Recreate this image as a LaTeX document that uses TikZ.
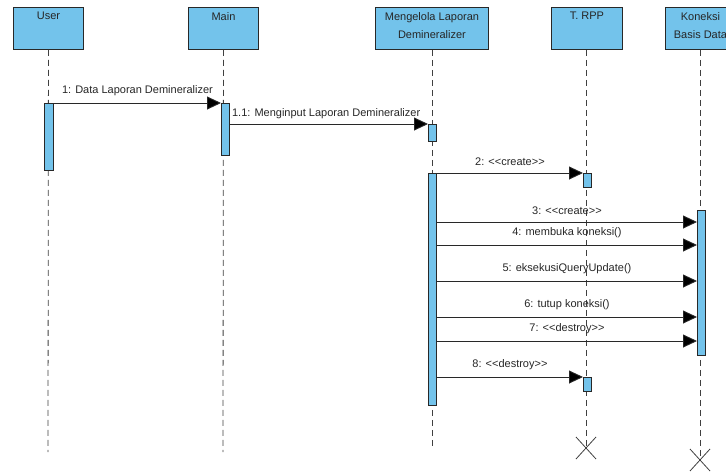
\documentclass[tikz,border=0pt]{standalone}
\usepackage{fontspec}
\setmainfont{Liberation Sans}
\usetikzlibrary{arrows.meta}
\definecolor{actfill}{RGB}{115,195,235}
\definecolor{linecol}{RGB}{40,40,40}
\begin{document}
\begin{tikzpicture}[x=1pt,y=-1pt,
  every node/.style={font=\fontsize{11}{18}\selectfont, text=black!85},
  head/.style={draw=linecol,line width=0.9pt,fill=actfill,minimum width=70pt,minimum height=42pt,anchor=north west,inner sep=0pt},
  headtxt/.style={anchor=north,align=center,inner sep=0pt},
  act/.style={draw=linecol,line width=0.9pt,fill=actfill,minimum width=8pt,anchor=north west,inner sep=0pt},
  life/.style={draw=black!75,line width=0.8pt,dash pattern=on 6pt off 4pt},
  msg/.style={draw=linecol,line width=0.9pt,-{Triangle[length=14pt,width=13pt,fill=black]}},
  lbl/.style={midway,above=5pt,inner sep=2pt},
  xmark/.style={draw=black!75,line width=0.8pt}
]
\useasboundingbox (0,0) rectangle (726,474);
\clip (0,0) rectangle (726,474);

% header boxes
\node[head] (user) at (13,7) {};
\node[head] (main) at (188,7) {};
\node[head,minimum width=113pt] (mgl) at (375,7) {};
\node[head,minimum width=71pt] (rpp) at (551,7) {};
\node[head] (kon) at (665,7) {};
\node[headtxt] (userT) at ([yshift=-5pt]user.north) {User};
\node[headtxt] (mainT) at ([yshift=-5pt]main.north) {Main};
\node[headtxt] (mglT) at ([yshift=-5pt]mgl.north) {Mengelola Laporan\\Demineralizer};
\node[headtxt] (rppT) at ([yshift=-5pt]rpp.north) {T. RPP};
\node[headtxt] (konT) at ([yshift=-5pt]kon.north) {Koneksi\\Basis Data};

% lifeline ends
\coordinate (userEnd) at (48,452);
\coordinate (mainEnd) at (223,452);
\coordinate (mglEnd) at (432,448);
\coordinate (rppX) at (586,448);
\coordinate (konX) at (700,460);

\draw[life] (user.south) -- (userEnd);
\draw[life] (main.south) -- (mainEnd);
\draw[life] (mgl.south -| mglEnd) -- (mglEnd);
\draw[life] (rpp.south -| rppX) -- (rppX);
\draw[life] (kon.south -| konX) -- (konX);

% activations
\node[act,minimum width=9pt,minimum height=67pt] (userA) at (44,103) {};
\node[act,minimum height=52pt] (mainA) at (221,103) {};
\node[act,minimum height=17pt] (mglA1) at (428,124) {};
\node[act,minimum height=232pt] (mglA2) at (428,173) {};
\node[act,minimum height=14pt] (rppA1) at (583,173) {};
\node[act,minimum height=145pt] (konA) at (697,210) {};
\node[act,minimum height=14pt] (rppA2) at (583,377) {};

% messages
\draw[msg] (userA.north east) -- (mainA.north west) node[lbl] {1: Data Laporan Demineralizer};
\draw[msg] (mainA.east |- mglA1.north) -- (mglA1.north west);
\node[anchor=south west,inner sep=2pt] (m11) at ([yshift=3pt]mainA.east |- mglA1.north) {1.1: Menginput Laporan Demineralizer};
\draw[msg] (mglA2.north east) -- (rppA1.north west) node[lbl] {2: <{}<create>{}>};
\draw[msg] (mglA2.east |- 0,222) -- (konA.west |- 0,222) node[lbl] {3: <{}<create>{}>};
\draw[msg] (mglA2.east |- 0,245) -- (konA.west |- 0,245) node[lbl] {4: membuka koneksi()};
\draw[msg] (mglA2.east |- 0,281) -- (konA.west |- 0,281) node[lbl] {5: eksekusiQueryUpdate()};
\draw[msg] (mglA2.east |- 0,317) -- (konA.west |- 0,317) node[lbl] {6: tutup koneksi()};
\draw[msg] (mglA2.east |- 0,341) -- (konA.west |- 0,341) node[lbl] {7: <{}<destroy>{}>};
\draw[msg] (mglA2.east |- rppA2.north) -- (rppA2.north west) node[lbl] {8: <{}<destroy>{}>};

% destroy marks
\draw[xmark] ([shift={(-10,-11)}]rppX) -- ([shift={(10,11)}]rppX);
\draw[xmark] ([shift={(-10,11)}]rppX) -- ([shift={(10,-11)}]rppX);
\draw[xmark] ([shift={(-10,-11)}]konX) -- ([shift={(10,11)}]konX);
\draw[xmark] ([shift={(-10,11)}]konX) -- ([shift={(10,-11)}]konX);
\end{tikzpicture}
\end{document}
